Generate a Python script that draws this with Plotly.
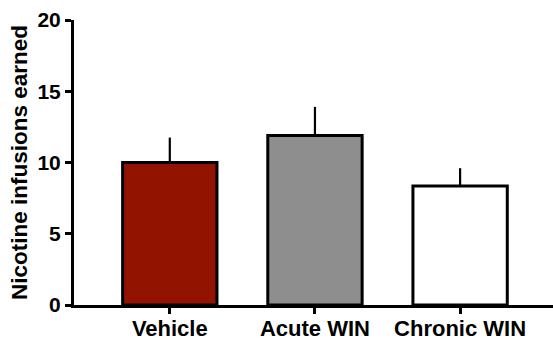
import plotly.graph_objects as go

categories = ["Vehicle", "Acute WIN", "Chronic WIN"]
means = [10.0, 11.9, 8.35]
sem = [1.75, 2.0, 1.25]
colors = ["#921300", "#8e8e8e", "#ffffff"]
y_ticks = [0, 5, 10, 15, 20]

FONT = "Liberation Sans, Arial"

fig = go.Figure()
fig.add_trace(go.Bar(
    x=categories, y=means,
    marker=dict(color=colors, line=dict(color="black", width=3)),
    width=0.65,
    error_y=dict(type="data", array=sem, arrayminus=[0]*len(sem), symmetric=False,
                 color="black", thickness=2.2, width=0),
))

fig.update_layout(
    width=553, height=343,
    margin=dict(l=74, r=0, t=20, b=38),
    plot_bgcolor="white", paper_bgcolor="white",
    showlegend=False,
    font=dict(family=FONT, color="black"),
)
fig.update_xaxes(
    range=[-0.66, 2.64], showline=True, linecolor="black", linewidth=3,
    ticks="outside", ticklen=6, tickwidth=3, tickcolor="black",
    tickfont=dict(size=22, family=FONT, weight="bold"),
    ticklabelstandoff=-4,
    showgrid=False, zeroline=False, automargin=False,
)
fig.update_yaxes(
    range=[0, 20], tickvals=y_ticks, showline=True, linecolor="black", linewidth=3,
    ticks="outside", ticklen=6, tickwidth=3, tickcolor="black",
    tickfont=dict(size=21, family=FONT, weight="bold"),
    showgrid=False, zeroline=False, automargin=False,
    title=dict(text="Nicotine infusions earned", standoff=4,
               font=dict(size=22.5, family=FONT, weight="bold")),
)
fig.write_html(
    "out.html",
    config={"displayModeBar": False},
    post_script="document.body.style.margin='0';document.body.style.overflow='hidden';",
)
